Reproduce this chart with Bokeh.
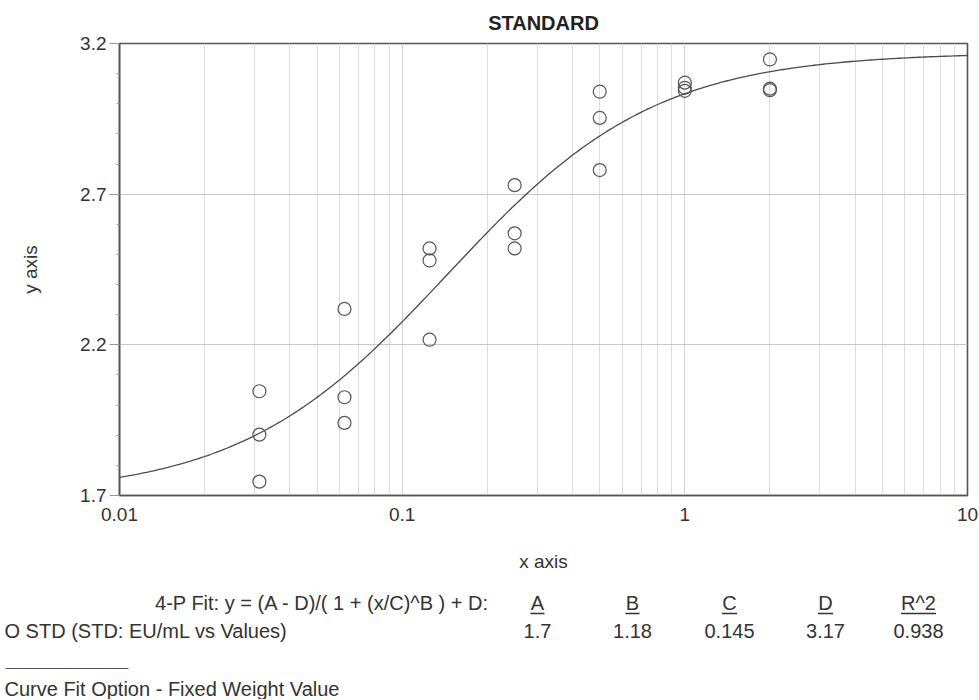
import numpy as np
from bokeh.plotting import figure
from bokeh.models import Range1d, FixedTicker, CustomJSTickFormatter
from bokeh.core.properties import value
from bokeh.embed import file_html
from bokeh.resources import INLINE

# ---- data ----
concentration = [0.03125, 0.03125, 0.03125,
                 0.0625, 0.0625, 0.0625,
                 0.125, 0.125, 0.125,
                 0.25, 0.25, 0.25,
                 0.5, 0.5, 0.5,
                 1.0, 1.0, 1.0,
                 2.0, 2.0, 2.0]
signal = [2.046, 1.902, 1.746,
          2.319, 2.026, 1.941,
          2.520, 2.480, 2.217,
          2.730, 2.570, 2.520,
          3.040, 2.953, 2.780,
          3.070, 3.053, 3.043,
          3.147, 3.050, 3.045]

fit_A, fit_B, fit_C, fit_D = 1.7, 1.18, 0.145, 3.17
param_names = ["A", "B", "C", "D", "R^2"]
param_values = ["1.7", "1.18", "0.145", "3.17", "0.938"]

x_ticks = [0.01, 0.1, 1, 10]
x_tick_labels = ["0.01", "0.1", "1", "10"]
y_ticks = [1.7, 2.2, 2.7, 3.2]
y_minor = [1.8, 1.9, 2.0, 2.1, 2.3, 2.4, 2.5, 2.6, 2.8, 2.9, 3.0, 3.1]

FONT = value("Liberation Sans")
W = 979

# ---- main chart ----
p = figure(width=W, height=580, x_axis_type="log",
           x_range=Range1d(0.01, 10), y_range=Range1d(1.7, 3.2),
           output_backend="svg", toolbar_location=None,
           min_border_left=119, min_border_right=12,
           min_border_top=43, min_border_bottom=85,
           title="STANDARD")
p.title.align = "center"
p.title.text_font = "Liberation Sans"
p.title.text_font_size = "20px"
p.title.text_font_style = "bold"
p.title.text_color = "#222222"
p.title.standoff = 19

p.outline_line_color = "#555555"
p.outline_line_width = 1.6

# curve from the 4-P fit parameters shown in the chart
xc = np.logspace(-2, 1, 300)
yc = (fit_A - fit_D) / (1 + (xc / fit_C) ** fit_B) + fit_D
p.line(xc, yc, line_color="#4a4a4a", line_width=1.3)

p.scatter(concentration, signal, marker="circle", size=13,
          fill_color=None, line_color="#555555", line_width=1.2)

x_minor = [m * 10.0 ** e for e in (-2, -1, 0) for m in range(2, 10)]
p.xaxis.ticker = FixedTicker(ticks=x_ticks, minor_ticks=x_minor)
p.xaxis.formatter = CustomJSTickFormatter(
    args=dict(t=x_ticks, l=x_tick_labels),
    code="""
    for (let i = 0; i < t.length; i++) { if (Math.abs(t[i] - tick) < 1e-9 * t[i]) return l[i]; }
    return tick.toString();
    """)
p.yaxis.ticker = FixedTicker(ticks=y_ticks, minor_ticks=y_minor)
p.yaxis.formatter = CustomJSTickFormatter(code="return tick.toFixed(1);")

for ax in (p.xaxis, p.yaxis):
    ax.axis_line_color = "#555555"
    ax.axis_line_width = 1.6
    ax.major_label_text_font = "Liberation Sans"
    ax.major_label_text_font_size = "19px"
    ax.major_label_text_color = "#333333"
    ax.axis_label_text_font = "Liberation Sans"
    ax.axis_label_text_font_size = "19px"
    ax.axis_label_text_font_style = "normal"
    ax.axis_label_text_color = "#333333"
    ax.major_tick_in = 0
    ax.minor_tick_in = 0
    ax.major_tick_line_color = "#999999"
    ax.minor_tick_line_color = "#999999"

p.xaxis.axis_label = "x axis"
p.xaxis.major_tick_out = 0
p.xaxis.minor_tick_out = 0
p.xaxis.major_label_standoff = 12
p.xaxis.axis_label_standoff = 27

p.yaxis.axis_label = "y axis"
p.yaxis.major_tick_out = 10
p.yaxis.minor_tick_out = 3
p.yaxis.major_label_standoff = 3
p.yaxis.axis_label_standoff = 36

p.ygrid.grid_line_color = "#c8c8c8"
p.ygrid.grid_line_width = 1
p.xgrid.grid_line_color = "#d4d4d4"
p.xgrid.minor_grid_line_color = "#dddddd"
p.xgrid.grid_line_width = 1

# ---- fit table below the chart (separate root, page coords minus 580) ----
q = figure(width=W, height=119, x_range=Range1d(0, W), y_range=Range1d(119, 0),
           output_backend="svg", toolbar_location=None,
           x_axis_location=None, y_axis_location=None,
           min_border=0, min_border_left=0, min_border_right=0,
           min_border_top=0, min_border_bottom=0)
q.grid.visible = False
q.outline_line_color = None

col_x = [537, 632, 729, 825, 918]
ul_w = [14, 14, 15, 15, 35]
txt = dict(text_font=FONT, text_font_size="20px", text_color="#333333",
           text_baseline="middle")

q.text(x=[489], y=[22], text=["4-P Fit: y = (A - D)/( 1 + (x/C)^B ) + D:"],
       text_align="right", **txt)
q.text(x=col_x, y=[22] * 5, text=param_names, text_align="center", **txt)
q.segment(x0=[c - w / 2 for c, w in zip(col_x, ul_w)], y0=[33] * 5,
          x1=[c + w / 2 for c, w in zip(col_x, ul_w)], y1=[33] * 5,
          line_color="#333333", line_width=1.3)
q.text(x=col_x, y=[50] * 5, text=param_values, text_align="center", **txt)
q.text(x=[4], y=[50], text=["O  STD (STD: EU/mL vs Values)"], text_align="left", **txt)
q.segment(x0=[5], y0=[88], x1=[128], y1=[88], line_color="#555555", line_width=1.2)
q.text(x=[4], y=[108], text=["Curve Fit Option - Fixed Weight Value"],
       text_align="left", **txt)

open("out.html", "w").write(file_html([p, q], INLINE))
